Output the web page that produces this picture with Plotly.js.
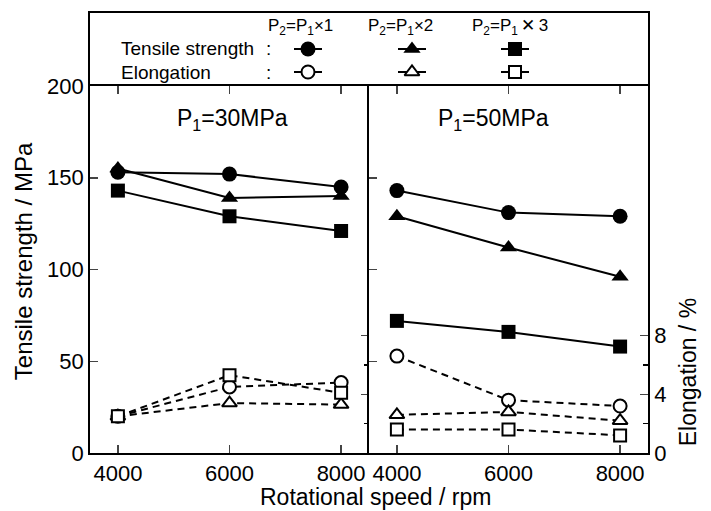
<!DOCTYPE html>
<html>
<head>
<meta charset="utf-8">
<script src="https://cdn.plot.ly/plotly-3.0.1.min.js"></script>
<style>html,body{margin:0;padding:0;background:#fff;}#chart{width:711px;height:511px;}</style>
</head>
<body>
<div id="chart"></div>
<script>
// ---- data ----
const speeds = [4000, 6000, 8000];
const speedTicks = ['4000', '6000', '8000'];
const seriesNames = ['P2=P1×1', 'P2=P1×2', 'P2=P1×3'];
const ts30_x1 = [153, 152, 145];
const ts30_x2 = [155, 139, 140];
const ts30_x3 = [143, 129, 121];
const el30_x1 = [2.5, 4.5, 4.8];
const el30_x2 = [2.5, 3.4, 3.3];
const el30_x3 = [2.5, 5.3, 4.1];
const ts50_x1 = [143, 131, 129];
const ts50_x2 = [129, 112, 96];
const ts50_x3 = [72, 66, 58];
const el50_x1 = [6.6, 3.6, 3.2];
const el50_x2 = [2.6, 2.8, 2.2];
const el50_x3 = [1.6, 1.6, 1.2];
const tensileTicks = [0, 50, 100, 150, 200];
const elongTicks = [0, 4, 8];
const elongMinor = [2, 6];

// ---- styles ----
const FONT = '"Liberation Sans", Arial, sans-serif';
const symbols = ['circle', 'triangle-up', 'square'];
const sizes = [15, 15, 14];
const openSizes = [13, 13, 12];

function tsTrace(y, i, xa, ya) {
  return {x: speeds, y: y, xaxis: xa, yaxis: ya, type: 'scatter', mode: 'lines+markers',
    name: seriesNames[i], showlegend: false,
    line: {color: '#000', width: 2},
    marker: {symbol: symbols[i], size: sizes[i], color: '#000', line: {width: 0}}};
}
function elTrace(y, i, xa, ya) {
  return {x: speeds, y: y, xaxis: xa, yaxis: ya, type: 'scatter', mode: 'lines+markers',
    name: seriesNames[i], showlegend: false,
    line: {color: '#000', width: 2, dash: '7px,5px'},
    marker: {symbol: symbols[i], size: openSizes[i], color: '#fff', line: {width: 2, color: '#000'}}};
}

const traces = [
  elTrace(el30_x1, 0, 'x', 'y2'), elTrace(el30_x2, 1, 'x', 'y2'), elTrace(el30_x3, 2, 'x', 'y2'),
  tsTrace(ts30_x1, 0, 'x', 'y'), tsTrace(ts30_x2, 1, 'x', 'y'), tsTrace(ts30_x3, 2, 'x', 'y'),
  elTrace(el50_x1, 0, 'x2', 'y4'), elTrace(el50_x2, 1, 'x2', 'y4'), elTrace(el50_x3, 2, 'x2', 'y4'),
  tsTrace(ts50_x1, 0, 'x2', 'y3'), tsTrace(ts50_x2, 1, 'x2', 'y3'), tsTrace(ts50_x3, 2, 'x2', 'y3')
];

// ---- legend keys (helper axis in the legend box, pixel-like units) ----
const keyX = [308, 412, 515];
const keyRowY = [49, 72];
const keyHalf = 14;
for (let i = 0; i < 3; i++) {
  for (let r = 0; r < 2; r++) {
    traces.push({x: [keyX[i] - keyHalf, keyX[i] + keyHalf], y: [keyRowY[r], keyRowY[r]],
      xaxis: 'x3', yaxis: 'y5', type: 'scatter', mode: 'lines', showlegend: false, hoverinfo: 'skip',
      line: {color: '#000', width: 2}});
    traces.push({x: [keyX[i]], y: [keyRowY[r]], xaxis: 'x3', yaxis: 'y5', type: 'scatter',
      mode: 'markers', showlegend: false, hoverinfo: 'skip',
      marker: r === 0 ? {symbol: symbols[i], size: sizes[i], color: '#000', line: {width: 0}}
                      : {symbol: symbols[i], size: openSizes[i], color: '#fff', line: {width: 2, color: '#000'}}});
  }
}

const mainDom = [0, 367 / 440];
const tickFont = {family: FONT, size: 22, color: '#000'};
const xCommon = {range: [3500, 8500], tickvals: speeds, ticktext: speedTicks, ticks: 'inside',
  ticklen: 8, tickwidth: 1.5, showline: true, linewidth: 1.8, linecolor: '#000', mirror: 'ticks',
  showgrid: false, zeroline: false, tickfont: tickFont, ticklabelstandoff: 0};

const layout = {
  width: 711, height: 511,
  margin: {l: 90, r: 63, t: 13, b: 58},
  paper_bgcolor: '#fff', plot_bgcolor: 'rgba(0,0,0,0)',
  showlegend: false,
  font: {family: FONT, color: '#000'},
  xaxis: Object.assign({}, xCommon, {domain: [0, 0.5], anchor: 'y'}),
  xaxis2: Object.assign({}, xCommon, {domain: [0.5, 1], anchor: 'y3'}),
  yaxis: {domain: mainDom, anchor: 'x', range: [0, 200], tickvals: tensileTicks, ticks: 'inside',
    ticklen: 8, tickwidth: 1.5, showline: true, linewidth: 1.8, linecolor: '#000', showgrid: false,
    zeroline: false, tickfont: tickFont, ticklabelstandoff: 0},
  yaxis2: {overlaying: 'y', side: 'right', anchor: 'x', range: [0, 25], tickvals: [4, 8], ticks: 'inside',
    ticklen: 8, tickwidth: 1.5, showticklabels: false, showline: false,
    showgrid: false, zeroline: false,
    minor: {tickvals: elongMinor, ticks: 'inside', ticklen: 5, tickwidth: 1.5, tickcolor: '#000', showgrid: false}},
  yaxis3: {domain: mainDom, anchor: 'x2', side: 'left', range: [0, 200], tickvals: [50, 100, 150],
    ticks: 'inside', ticklen: 8, tickwidth: 1.5, showticklabels: false, showline: true, linewidth: 1.8,
    linecolor: '#000', showgrid: false, zeroline: false},
  yaxis4: {overlaying: 'y3', side: 'right', anchor: 'x2', range: [0, 25], tickvals: elongTicks,
    ticktext: elongTicks.map(String), ticks: 'inside', ticklen: 8, tickwidth: 1.5, showline: true,
    linewidth: 1.8, linecolor: '#000', showgrid: false, zeroline: false, tickfont: tickFont,
    minor: {tickvals: elongMinor, ticks: 'inside', ticklen: 5, tickwidth: 1.5, tickcolor: '#000', showgrid: false}},
  xaxis3: {domain: [0, 1], anchor: 'y5', side: 'top', range: [90, 648], showticklabels: false, ticks: '',
    showline: true, mirror: false, linewidth: 1.8, linecolor: '#000', showgrid: false, zeroline: false, fixedrange: true},
  yaxis5: {domain: [367 / 440, 1], anchor: 'x3', range: [86, 13], showticklabels: false, ticks: '',
    showline: true, mirror: true, linewidth: 1.8, linecolor: '#000', showgrid: false, zeroline: false, fixedrange: true},
  annotations: [
    {text: 'Tensile strength / MPa', xref: 'paper', yref: 'paper', x: -0.12, y: 0.436, textangle: -90,
      showarrow: false, font: {family: FONT, size: 24, color: '#000'}, xanchor: 'center', yanchor: 'middle'},
    {text: 'Elongation / %', xref: 'paper', yref: 'paper', x: 1.072, y: 0.184, textangle: -90,
      showarrow: false, font: {family: FONT, size: 23, color: '#000'}, xanchor: 'center', yanchor: 'middle'},
    {text: 'Rotational speed / rpm', xref: 'paper', yref: 'paper', x: 0.5125, y: -0.099,
      showarrow: false, font: {family: FONT, size: 23, color: '#000'}, xanchor: 'center', yanchor: 'middle'},
    {text: 'P<sub>1</sub>=30MPa', xref: 'paper', yref: 'paper', x: 0.256, y: 0.757,
      showarrow: false, font: {family: FONT, size: 23, color: '#000'}, xanchor: 'center', yanchor: 'middle'},
    {text: 'P<sub>1</sub>=50MPa', xref: 'paper', yref: 'paper', x: 0.724, y: 0.757,
      showarrow: false, font: {family: FONT, size: 23, color: '#000'}, xanchor: 'center', yanchor: 'middle'},
    {text: 'P<sub>2</sub>=P<sub>1</sub>×1', xref: 'x3', yref: 'y5', x: 300, y: 27, showarrow: false,
      font: {family: FONT, size: 17, color: '#000'}, xanchor: 'center', yanchor: 'middle'},
    {text: 'P<sub>2</sub>=P<sub>1</sub>×2', xref: 'x3', yref: 'y5', x: 400, y: 27, showarrow: false,
      font: {family: FONT, size: 17, color: '#000'}, xanchor: 'center', yanchor: 'middle'},
    {text: 'P<sub>2</sub>=P<sub>1</sub>\u2009\u2715\u20093', xref: 'x3', yref: 'y5', x: 510, y: 27, showarrow: false,
      font: {family: FONT, size: 17, color: '#000'}, xanchor: 'center', yanchor: 'middle'},
    {text: 'Tensile strength', xref: 'x3', yref: 'y5', x: 119, y: 48, showarrow: false,
      font: {family: FONT, size: 19, color: '#000'}, xanchor: 'left', yanchor: 'middle'},
    {text: 'Elongation', xref: 'x3', yref: 'y5', x: 119, y: 72, showarrow: false,
      font: {family: FONT, size: 19, color: '#000'}, xanchor: 'left', yanchor: 'middle'},
    {text: ':', xref: 'x3', yref: 'y5', x: 268, y: 48, showarrow: false,
      font: {family: FONT, size: 19, color: '#000'}, xanchor: 'center', yanchor: 'middle'},
    {text: ':', xref: 'x3', yref: 'y5', x: 268, y: 72, showarrow: false,
      font: {family: FONT, size: 19, color: '#000'}, xanchor: 'center', yanchor: 'middle'}
  ]
};

Plotly.newPlot('chart', traces, layout, {displayModeBar: false, staticPlot: true});
</script>
</body>
</html>
